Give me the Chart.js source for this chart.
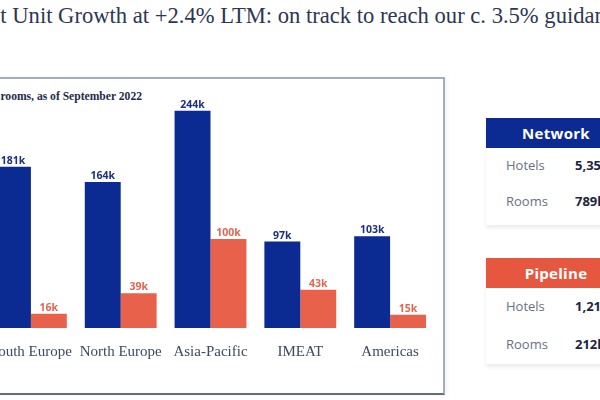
<!DOCTYPE html>
<html>
<head>
<meta charset="utf-8">
<script src="https://cdn.jsdelivr.net/npm/chart.js@4"></script>
<style>
  html, body { margin: 0; padding: 0; }
  body { width: 600px; height: 400px; overflow: hidden; position: relative; background: #fff; }
  .title { position: absolute; left: -26px; top: 3px; white-space: nowrap;
           font: 22.6px "Liberation Serif", serif; color: #2d3652; }
  .box { position: absolute; left: -40px; top: 77px; width: 483px; height: 314px;
         border-top: 2px solid #a3adbb; border-right: 2px solid #a3adbb; border-bottom: 2px solid #5f6d7d;
         box-shadow: 2px 0 4px rgba(0,0,0,0.06); }
  .sub { position: absolute; right: 458px; top: 90px; white-space: nowrap;
         font: bold 11.6px "Liberation Serif", serif; color: #1f2a4a; }
  #wrap { position: absolute; left: -14px; top: 90px; width: 449px; height: 300px; }
  .panel { position: absolute; left: 486px; width: 140px; background: #fff;
           box-shadow: 0 3px 4px rgba(0,0,0,0.08); font-family: "Open Sans", sans-serif; }
  .head { height: 30px; line-height: 30px; color: #fff; font-weight: bold; font-size: 15px;
          text-align: center; letter-spacing: 0.3px; }
  .row { position: relative; height: 36px; }
  .row .k { position: absolute; left: 20px; top: 8px; font-size: 13px; color: #6b7080; }
  .row .v { position: absolute; left: 89px; top: 8px; font-size: 13px; font-weight: bold; color: #1d2540; }
</style>
</head>
<body>
<div class="title">Net Unit Growth at +2.4% LTM: on track to reach our c. 3.5% guidance</div>
<div class="box"></div>
<div class="sub">Network &amp; pipeline in rooms, as of September 2022</div>
<div id="wrap"><canvas id="myChart"></canvas></div>

<div class="panel" style="top:118px; padding-bottom:5px;">
  <div class="head" style="background:#0b2a92;">Network</div>
  <div class="row"><span class="k">Hotels</span><span class="v">5,358</span></div>
  <div class="row"><span class="k">Rooms</span><span class="v">789k</span></div>
</div>
<div class="panel" style="top:258px;">
  <div class="head" style="background:#e5573f;">Pipeline</div>
  <div class="row" style="height:38px;"><span class="k" style="top:9px;">Hotels</span><span class="v" style="top:9px;">1,218</span></div>
  <div class="row" style="height:38px;"><span class="k" style="top:9px;">Rooms</span><span class="v" style="top:9px;">212k</span></div>
</div>

<script>
// regions and rooms (thousands), September 2022
const regions = ['South Europe', 'North Europe', 'Asia-Pacific', 'IMEAT', 'Americas'];
const networkRooms = [181, 164, 244, 97, 103];
const pipelineRooms = [16, 39, 100, 43, 15];

const NAVY = '#0b2a92';
const ORANGE = '#e8614a';

// draw the "181k" style labels over each bar
const barLabels = {
    id: 'barLabels',
    afterDatasetsDraw(chart) {
        const c = chart.ctx;
        c.save();
        c.font = 'bold 10.5px "Open Sans", sans-serif';
        c.textAlign = 'center';
        c.textBaseline = 'alphabetic';
        chart.data.datasets.forEach((ds, i) => {
            c.fillStyle = i === 0 ? '#1c2f80' : '#e2654f';
            chart.getDatasetMeta(i).data.forEach((bar, j) => {
                c.fillText(ds.data[j] + 'k', bar.x, bar.y - 3);
            });
        });
        c.restore();
    }
};

document.addEventListener("DOMContentLoaded", function () {
    const ctx = document.getElementById('myChart');

    new Chart(ctx, {
        type: 'bar',
        data: {
            labels: regions,
            datasets: [
                { label: 'Network', data: networkRooms, backgroundColor: NAVY },
                { label: 'Pipeline', data: pipelineRooms, backgroundColor: ORANGE }
            ]
        },
        options: {
            responsive: true,
            maintainAspectRatio: false,
            animation: false,
            layout: { autoPadding: false, padding: { top: 10, left: 0, right: 0, bottom: 0 } },
            plugins: { legend: { display: false }, tooltip: { enabled: false } },
            datasets: { bar: { categoryPercentage: 0.8, barPercentage: 1.0 } },
            scales: {
                x: {
                    grid: { display: false, drawTicks: false },
                    border: { display: false },
                    ticks: { color: '#3f4963', padding: 15, font: { family: '"Liberation Serif", serif', size: 15 } },
                    afterFit: s => { s.height = 62; s.paddingLeft = 0; s.paddingRight = 0; }
                },
                y: { display: false, min: 0, max: 256 }
            }
        },
        plugins: [barLabels]
    });
});
</script>
</body>
</html>
